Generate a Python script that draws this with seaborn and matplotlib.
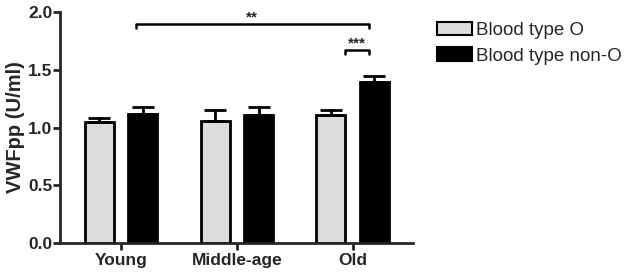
import matplotlib
matplotlib.use("Agg")
import matplotlib.pyplot as plt
import seaborn as sns
import pandas as pd
import numpy as np
from matplotlib.patches import Patch

# Data
groups = ["Young", "Middle-age", "Old"]
blood_types = ["Blood type O", "Blood type non-O"]
mean_o = [1.05, 1.06, 1.11]
mean_non_o = [1.12, 1.11, 1.39]
sem_o = [0.035, 0.09, 0.04]
sem_non_o = [0.055, 0.07, 0.055]

palette = {"Blood type O": "#dcdcdc", "Blood type non-O": "#000000"}

df = pd.DataFrame({
    "group": groups * 2,
    "blood": [blood_types[0]] * 3 + [blood_types[1]] * 3,
    "value": mean_o + mean_non_o,
    "err": sem_o + sem_non_o,
})

sns.set_style("ticks")
plt.rcParams["font.family"] = ["Liberation Sans", "DejaVu Sans"]

fig = plt.figure(figsize=(6.27, 2.76), dpi=100)
ax = fig.add_axes([60 / 627, 1 - 243 / 276, 353 / 627, 231 / 276])

sns.barplot(
    data=df, x="group", y="value", hue="blood",
    order=groups, hue_order=blood_types, palette=palette,
    width=0.75, gap=1 / 3, errorbar=None,
    edgecolor="black", linewidth=2, ax=ax, legend=False,
)

# upward-only error bars on each bar
for container, b in zip(ax.containers, blood_types):
    sub = df[df["blood"] == b].set_index("group").loc[groups]
    xs = [p.get_x() + p.get_width() / 2 for p in container.patches]
    ax.errorbar(xs, sub["value"], yerr=[np.zeros(len(xs)), sub["err"]],
                fmt="none", ecolor="black", elinewidth=2, capsize=8,
                capthick=2, zorder=1)

# significance brackets
def bracket(x1, x2, y, h, text):
    ax.plot([x1, x1, x2, x2], [y - h, y, y, y - h], color="black", lw=1.8,
            clip_on=False)
    ax.text((x1 + x2) / 2, y - 0.005, text, ha="center", va="bottom",
            fontsize=11, fontweight="bold")

xs_o = [p.get_x() + p.get_width() / 2 for p in ax.containers[0].patches]
xs_n = [p.get_x() + p.get_width() / 2 for p in ax.containers[1].patches]
bracket(xs_n[0] - 0.06, xs_n[2] - 0.05, 1.90, 0.035, "**")
bracket(xs_o[2] + 0.12, xs_n[2] - 0.05, 1.67, 0.035, "***")

ax.set_ylim(0, 2.0)
ax.set_xlim(-0.525, 2.52)
ax.set_yticks([0.0, 0.5, 1.0, 1.5, 2.0])
ax.set_yticklabels(["0.0", "0.5", "1.0", "1.5", "2.0"])
ax.set_xlabel("")
ax.set_ylabel("VWFpp (U/ml)", fontsize=14.5, fontweight="bold", labelpad=2)
for lab in ax.get_xticklabels() + ax.get_yticklabels():
    lab.set_fontweight("bold")
    lab.set_fontsize(12.5)
ax.tick_params(axis="both", width=2, length=5, direction="out")
ax.tick_params(axis="y", pad=0.5)
ax.tick_params(axis="x", pad=2)
for s in ["left", "bottom"]:
    ax.spines[s].set_linewidth(2)
sns.despine(ax=ax)

handles = [Patch(facecolor=palette[b], edgecolor="black", linewidth=1.5, label=b)
           for b in blood_types]
fig.legend(handles=handles, loc="upper left", bbox_to_anchor=(430 / 627, 1 - 14 / 276),
           frameon=False, fontsize=13.5, handlelength=1.85, handleheight=0.75,
           handletextpad=0.2, labelspacing=0.45, borderaxespad=0)

fig.savefig("out.png", dpi=100)
